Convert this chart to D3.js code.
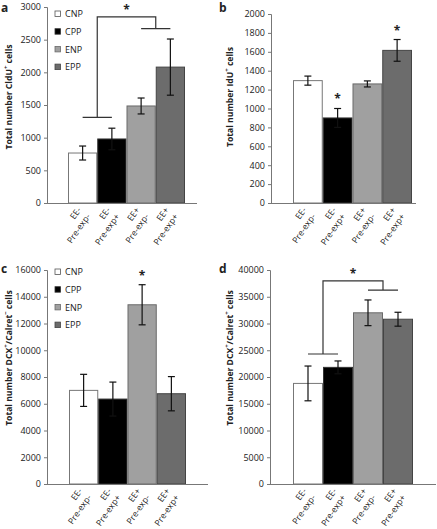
<!DOCTYPE html>
<html>
<head>
<meta charset="utf-8">
<script src="https://cdn.jsdelivr.net/npm/d3@7"></script>
<style>
  html, body { margin: 0; padding: 0; background: #fff; }
  svg { display: block; }
  text { font-family: "Open Sans", "Liberation Sans", sans-serif; fill: #222; }
</style>
</head>
<body>
<svg id="chart" width="437" height="529"></svg>
<script>
// ---------- data ----------
const categories = ["CNP", "CPP", "ENP", "EPP"];
const xLabelLine1 = ["EE-", "EE-", "EE+", "EE+"];
const xLabelLine2 = ["Pre-exp-", "Pre-exp+", "Pre-exp-", "Pre-exp+"];

const valuesA = [765, 980, 1485, 2080];
const errorsA = [107, 165, 122, 430];
const ticksA = [0, 500, 1000, 1500, 2000, 2500, 3000];

const valuesB = [1295, 900, 1260, 1615];
const errorsB = [48, 100, 32, 115];
const ticksB = [0, 200, 400, 600, 800, 1000, 1200, 1400, 1600, 1800, 2000];

const valuesC = [7000, 6350, 13400, 6750];
const errorsC = [1200, 1270, 1500, 1280];
const ticksC = [0, 2000, 4000, 6000, 8000, 10000, 12000, 14000, 16000];

const valuesD = [18800, 21800, 32000, 30800];
const errorsD = [3250, 1200, 2400, 1300];
const ticksD = [0, 5000, 10000, 15000, 20000, 25000, 30000, 35000, 40000];

// bracket levels: [left group, top, right group]
const bracketA = [1310, 2850, 2670];
const bracketD = [24300, 37950, 36250];
// significance star levels (value units) per category (null = none)
const starsB = [null, 1122, null, 1840];
const starsC = [null, null, 15700, null];

const colors = ["#ffffff", "#000000", "#a0a0a0", "#6c6c6c"];
const strokes = ["#777777", "#333333", "#6a6a6a", "#444444"];

// ---------- drawing ----------
const svg = d3.select("#chart");

function supTitle(g, parts) {
  parts.forEach(([t, sup]) => {
    const ts = g.append("tspan").text(t);
    if (sup) ts.attr("font-size", "6px").attr("baseline-shift", "super");
  });
}

function drawPanel(p) {
  const g = svg.append("g");
  const y = d3.scaleLinear().domain([0, p.max]).range([p.y0, p.yTop]);
  const x = d3.scaleBand().domain(categories).range([p.barL, p.barR]).paddingInner(0).paddingOuter(0);

  // y axis
  const yAxis = d3.axisLeft(y).tickValues(p.ticks).tickSize(3).tickPadding(3).tickFormat(d3.format("d"));
  const ya = g.append("g").attr("transform", `translate(${p.axisX},0)`).call(yAxis);
  ya.select(".domain").attr("stroke", "#777").attr("stroke-width", 1);
  ya.selectAll(".tick line").attr("stroke", "#777");
  ya.selectAll(".tick text").attr("font-size", "9px").attr("fill", "#222")
    .attr("font-family", "'Open Sans', sans-serif");

  // bars
  g.selectAll("rect.bar").data(p.values).join("rect")
    .attr("class", "bar")
    .attr("x", (d, i) => x(categories[i]) + 0.5)
    .attr("width", x.bandwidth() - 1)
    .attr("y", d => y(d))
    .attr("height", d => p.y0 - y(d))
    .attr("fill", (d, i) => colors[i])
    .attr("stroke", (d, i) => strokes[i])
    .attr("stroke-width", 1);

  // x axis line
  g.append("line").attr("x1", p.axisX).attr("x2", p.axisEnd)
    .attr("y1", p.y0 + 0.5).attr("y2", p.y0 + 0.5)
    .attr("stroke", "#777").attr("stroke-width", 1);

  // error bars
  const cap = 3.5;
  p.values.forEach((v, i) => {
    const cx = x(categories[i]) + x.bandwidth() / 2;
    const e = p.errors[i];
    g.append("line").attr("x1", cx).attr("x2", cx).attr("y1", y(v + e)).attr("y2", y(v - e))
      .attr("stroke", "#111").attr("stroke-width", 1.2);
    [v + e, v - e].forEach(t => {
      g.append("line").attr("x1", cx - cap).attr("x2", cx + cap).attr("y1", y(t)).attr("y2", y(t))
        .attr("stroke", "#111").attr("stroke-width", 1.2);
    });
  });

  // x labels
  categories.forEach((c, i) => {
    const cx = x(c) + x.bandwidth() / 2;
    const t = g.append("text")
      .attr("transform", `translate(${cx - 1},${p.y0 + 7}) rotate(-55)`)
      .attr("text-anchor", "end").attr("font-size", "8.6px");
    t.append("tspan").attr("x", 0).attr("dy", 0).text(xLabelLine1[i]);
    t.append("tspan").attr("x", 0).attr("dy", "1.3em").text(xLabelLine2[i]);
  });

  // stars on bars
  (p.stars || []).forEach((s, i) => {
    if (s == null) return;
    const cx = x(categories[i]) + x.bandwidth() / 2;
    g.append("text").attr("x", cx).attr("y", y(s) + 6)
      .attr("text-anchor", "middle").attr("font-size", "12px").attr("font-weight", "bold")
      .attr("fill", p.starColor || "#222").text("*");
  });

  // bracket
  if (p.bracket) {
    const [lv, tv, rv] = p.bracket;
    const c = categories.map(k => x(k) + x.bandwidth() / 2);
    const lm = (c[0] + c[1]) / 2, rm = (c[2] + c[3]) / 2;
    const path = d3.path();
    path.moveTo(c[0], y(lv)); path.lineTo(c[1], y(lv));
    path.moveTo(lm, y(lv)); path.lineTo(lm, y(tv)); path.lineTo(rm, y(tv)); path.lineTo(rm, y(rv));
    path.moveTo(c[2], y(rv)); path.lineTo(c[3], y(rv));
    g.append("path").attr("d", path.toString()).attr("fill", "none")
      .attr("stroke", "#333").attr("stroke-width", 1.2);
    g.append("text").attr("x", (lm + rm) / 2).attr("y", y(tv) - 3)
      .attr("text-anchor", "middle").attr("font-size", "12px").attr("font-weight", "bold").text("*");
  }

  // legend
  if (p.legend) {
    categories.forEach((c, i) => {
      const ly = p.legend.y + i * 17.7;
      g.append("rect").attr("x", p.legend.x).attr("y", ly - 3).attr("width", 5.5).attr("height", 5.5)
        .attr("fill", colors[i]).attr("stroke", i === 0 ? "#555" : strokes[i]).attr("stroke-width", 0.8);
      g.append("text").attr("x", p.legend.x + 10).attr("y", ly + 3.2).attr("font-size", "9px").text(c);
    });
  }

  // y title
  const yt = g.append("text")
    .attr("transform", `translate(${p.titleX},${p.titleY}) rotate(-90)`)
    .attr("text-anchor", "middle").attr("font-size", "8.6px").attr("font-weight", "bold");
  supTitle(yt, p.title);

  // panel letter
  g.append("text").attr("x", p.letterX).attr("y", p.letterY)
    .attr("font-size", "12px").attr("font-weight", "bold").attr("fill", "#111").text(p.letter);
}

drawPanel({
  values: valuesA, errors: errorsA, ticks: ticksA, max: 3000,
  axisX: 47, y0: 203, yTop: 7, barL: 68, barR: 185, axisEnd: 197,
  bracket: bracketA, legend: { x: 55, y: 14 },
  title: [["Total number CldU", false], ["+", true], [" cells", false]],
  titleX: 12, titleY: 97, letter: "a", letterX: 1, letterY: 12
});
drawPanel({
  values: valuesB, errors: errorsB, ticks: ticksB, max: 2000,
  axisX: 271, y0: 203, yTop: 14, barL: 293, barR: 412, axisEnd: 416,
  stars: starsB, starColor: "#555",
  title: [["Total number IdU", false], ["+", true], [" cells", false]],
  titleX: 233, titleY: 97, letter: "b", letterX: 219, letterY: 12
});
drawPanel({
  values: valuesC, errors: errorsC, ticks: ticksC, max: 16000,
  axisX: 47, y0: 484, yTop: 270, barL: 69, barR: 186, axisEnd: 208,
  stars: starsC, legend: { x: 55, y: 272 },
  title: [["Total number DCX", false], ["+", true], ["/Calret", false], ["\u2212", true], [" cells", false]],
  titleX: 12, titleY: 358, letter: "c", letterX: 1, letterY: 273
});
drawPanel({
  values: valuesD, errors: errorsD, ticks: ticksD, max: 40000,
  axisX: 270, y0: 484, yTop: 270, barL: 293, barR: 413, axisEnd: 436,
  bracket: bracketD,
  title: [["Total number DCX", false], ["+", true], ["/Calret", false], ["+", true], [" cells", false]],
  titleX: 233, titleY: 358, letter: "d", letterX: 219, letterY: 273
});
</script>
</body>
</html>
